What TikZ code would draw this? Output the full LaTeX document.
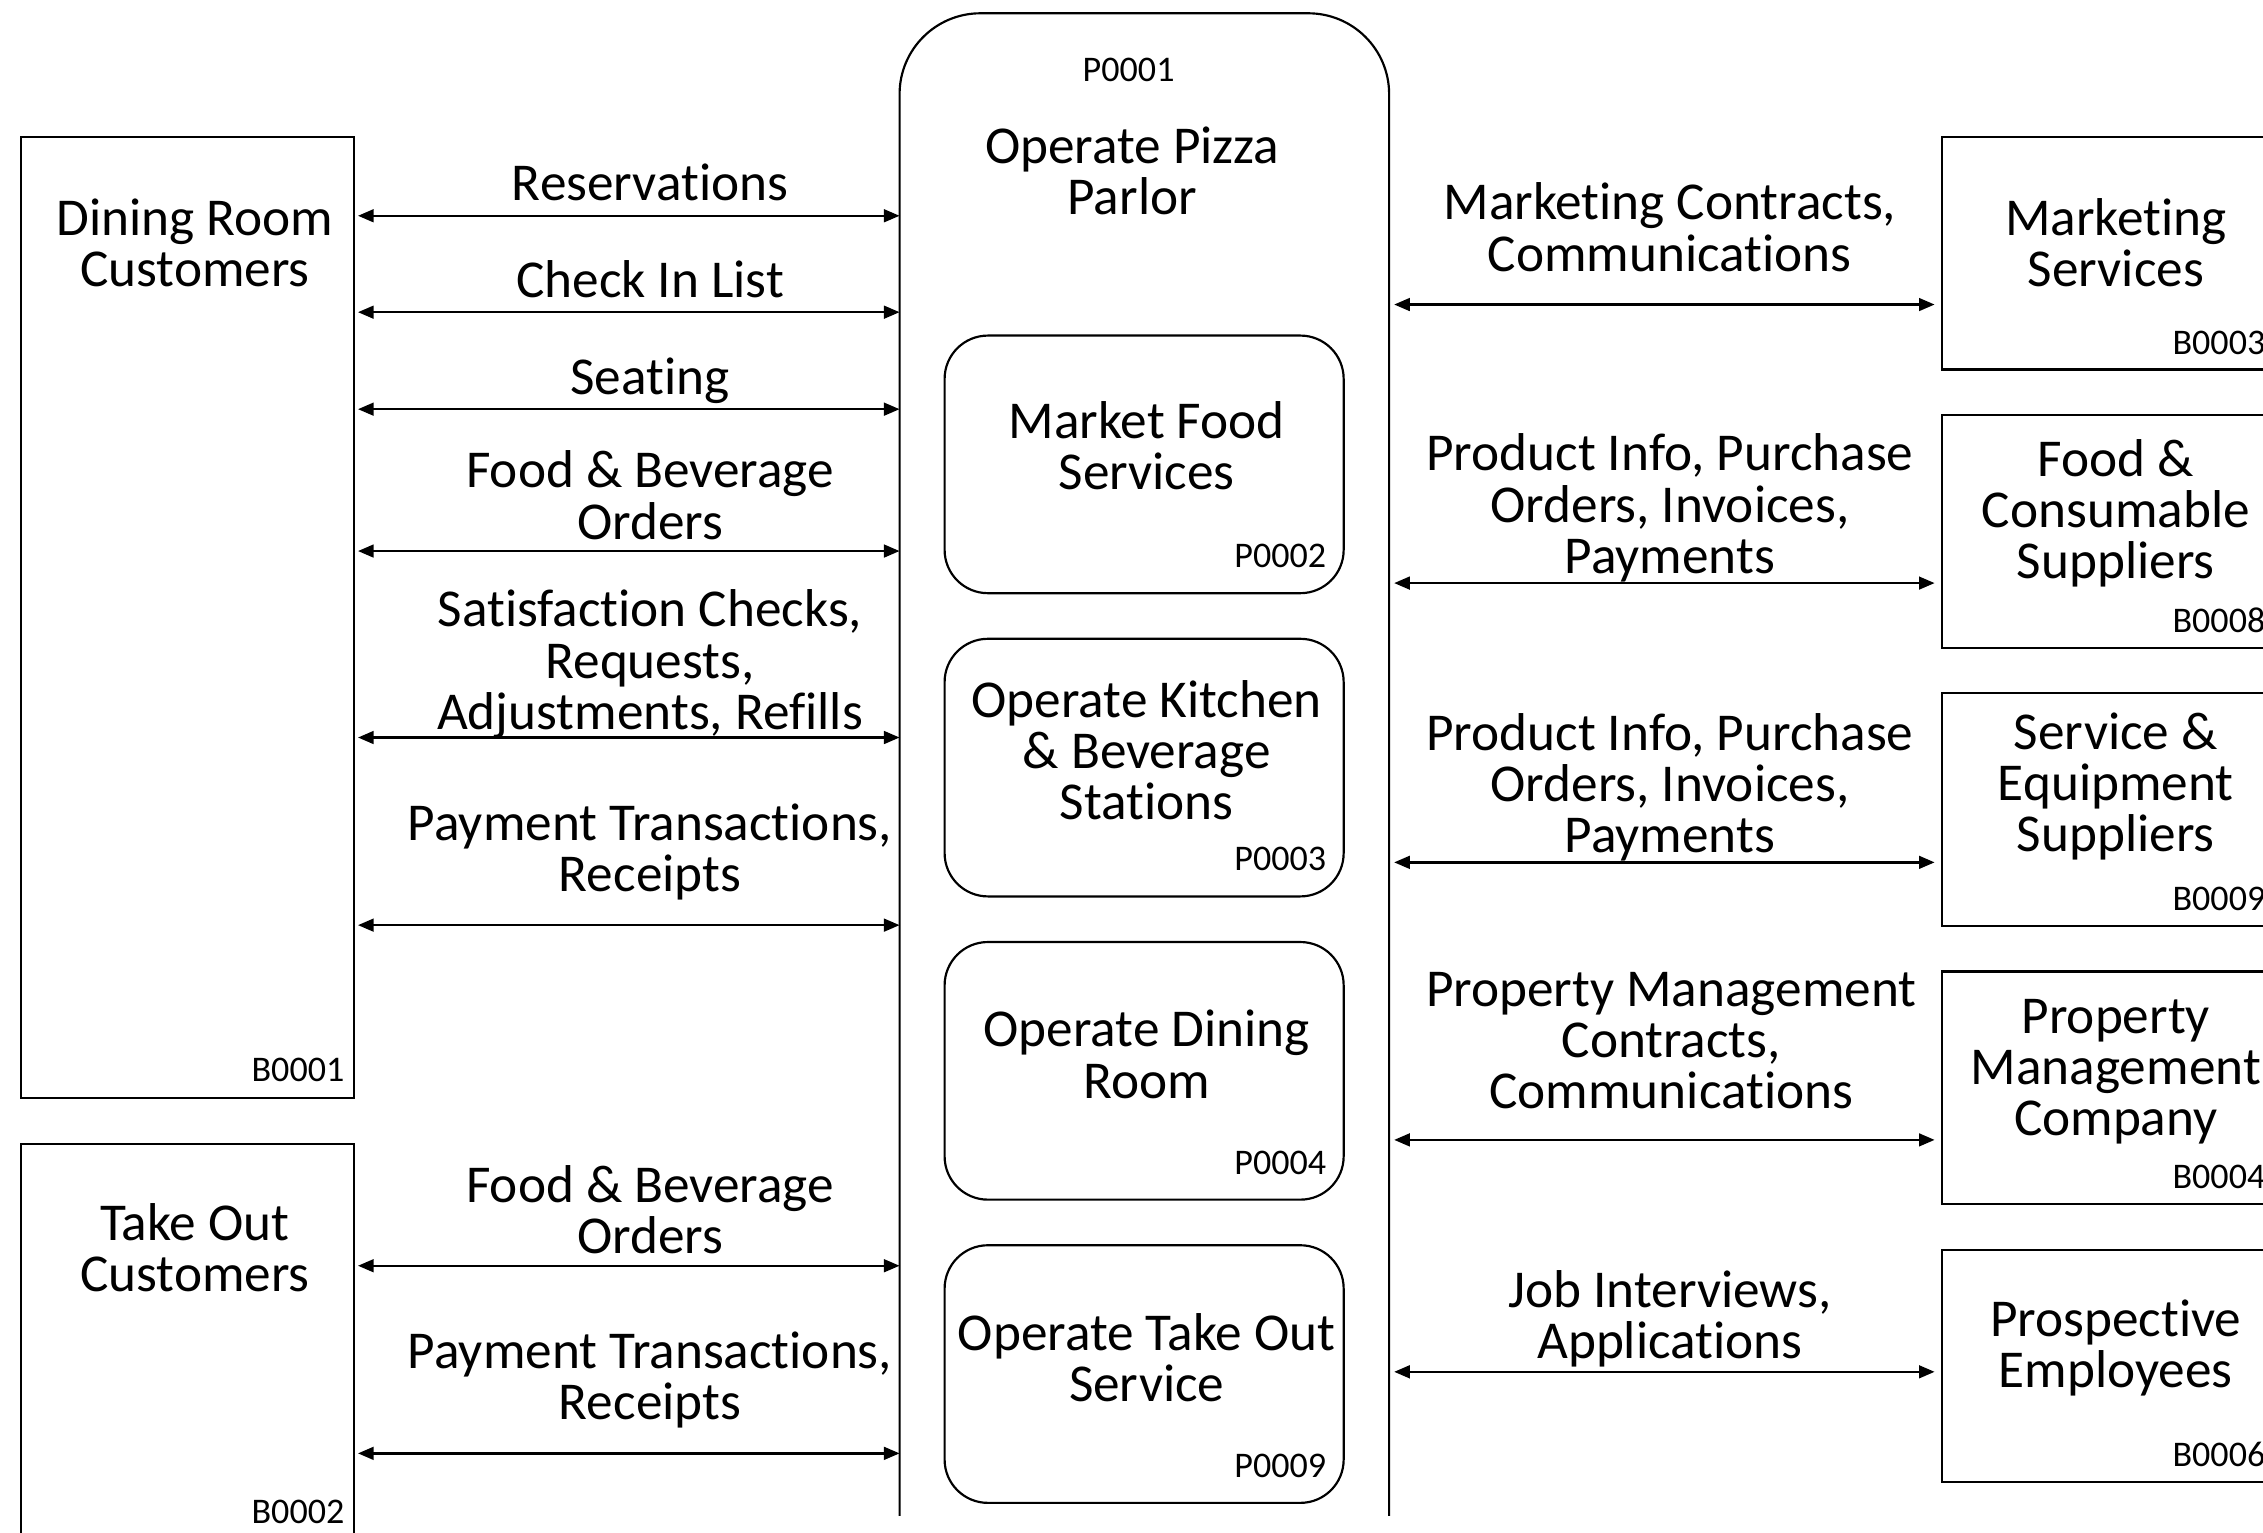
\documentclass[tikz,border=0pt]{standalone}
\usepackage{fontspec}
\setmainfont[Ligatures=NoCommon]{Carlito}
\usetikzlibrary{arrows.meta}
\newcommand\tightlines{\lineskiplimit=-100pt\relax}
\begin{document}
\begin{tikzpicture}[x=0.5pt,y=-0.5pt,
  lbl/.style={font={\fontsize{18.45}{17.75}\selectfont\tightlines}, align=center, inner sep=0pt, anchor=base},
  idlbl/.style={font={\fontsize{12.5}{14}\selectfont}, inner sep=0pt, anchor=base east},
  extbox/.style={draw, line width=0.75pt, rectangle, inner sep=0pt, outer sep=0pt, minimum width=115.5pt},
  procbox/.style={draw, line width=0.75pt, rectangle, rounded corners=15pt, inner sep=0pt, outer sep=0pt, minimum width=138.25pt, minimum height=89.25pt},
  flow/.style={line width=0.8pt, {Triangle[length=5.4pt,width=4.4pt]}-{Triangle[length=5.4pt,width=4.4pt]}},
]
\useasboundingbox (0,0) rectangle (1568,1062);
\fill[white] (0,0) rectangle (1568,1062);
\clip (0,0) rectangle (1568,1062);

% outer process P0001 (open at the bottom)
\begin{scope}
  \clip (0,0) rectangle (1568,1050);
  \node[draw, line width=0.75pt, rectangle, rounded corners=28pt, inner sep=0pt, outer sep=0pt,
        minimum width=169.6pt, minimum height=570.4pt] (p1) at (792.9,579.6) {};
\end{scope}
\node[idlbl, anchor=base] (p1id) at (782,56.3) {P0001};
\node[lbl] (p1txt) at (784.5,148.5) {Operate Pizza\\Parlor};

% sub-processes
\node[procbox] (p2) at (792.75,321.75) {};
\node[lbl] (p2txt) at (794.5,339) {Market Food\\Services};
\node[idlbl] (p2id) at (919.3,393) {P0002};

\node[procbox] (p3) at (792.75,531.85) {};
\node[lbl] (p3txt) at (794.5,568) {Operate Kitchen\\\& Beverage\\Stations};
\node[idlbl] (p3id) at (919.3,603.3) {P0003};

\node[procbox] (p4) at (792.75,741.95) {};
\node[lbl] (p4txt) at (794.5,760.8) {Operate Dining\\Room};
\node[idlbl] (p4id) at (919.3,813.5) {P0004};

\node[procbox] (p9) at (792.75,952.05) {};
\node[lbl] (p9txt) at (794.5,971) {Operate Take Out\\Service};
\node[idlbl] (p9id) at (919.3,1023.5) {P0009};

% left external entities
\node[extbox, minimum height=332.8pt] (b1) at (130.05,427.8) {};
\node[lbl] (b1txt) at (135,198.8) {Dining Room\\Customers};
\node[idlbl] (b1id) at (239,749.5) {B0001};

\node[extbox, minimum height=153.8pt] (b2) at (130.05,946.2) {};
\node[lbl] (b2txt) at (135,895) {Take Out\\Customers};
\node[idlbl] (b2id) at (239,1055.7) {B0002};

% right external entities
\node[extbox, minimum height=80.5pt] (b3) at (1460.95,175.5) {};
\node[lbl] (b3txt) at (1466,198.8) {Marketing\\Services};
\node[idlbl] (b3id) at (1570,245.5) {B0003};

\node[extbox, minimum height=80.5pt] (b8) at (1460.95,368.2) {};
\node[lbl] (b8txt) at (1466,401) {Food \&\\Consumable\\Suppliers};
\node[idlbl] (b8id) at (1570,438.2) {B0008};

\node[extbox, minimum height=80.5pt] (b9) at (1460.95,560.9) {};
\node[lbl] (b9txt) at (1466,590) {Service \&\\Equipment\\Suppliers};
\node[idlbl] (b9id) at (1570,630.9) {B0009};

\node[extbox, minimum height=80.5pt] (b4) at (1460.95,753.6) {};
\node[lbl] (b4txt) at (1466,787) {Property\\Management\\Company};
\node[idlbl] (b4id) at (1570,823.6) {B0004};

\node[extbox, minimum height=80.5pt] (b6) at (1460.95,946.3) {};
\node[lbl] (b6txt) at (1466,961.5) {Prospective\\Employees};
\node[idlbl] (b6id) at (1570,1016.3) {B0006};

% left flows
\node[lbl] (l1) at (450.4,138.8) {Reservations};
\draw[flow, shorten <=1.25pt] (b1.east |- 0,149.5) -- (p1.west |- 0,149.5);
\node[lbl] (l2) at (450.4,206) {Check In List};
\draw[flow, shorten <=1.25pt] (b1.east |- 0,216.3) -- (p1.west |- 0,216.3);
\node[lbl] (l3) at (450.4,273.6) {Seating};
\draw[flow, shorten <=1.25pt] (b1.east |- 0,283.5) -- (p1.west |- 0,283.5);
\node[lbl] (l4) at (450.4,373.6) {Food \& Beverage\\Orders};
\draw[flow, shorten <=1.25pt] (b1.east |- 0,381.8) -- (p1.west |- 0,381.8);
\node[lbl] (l5) at (450.4,505.3) {Satisfaction Checks,\\Requests,\\Adjustments, Refills};
\draw[flow, shorten <=1.25pt] (b1.east |- 0,511) -- (p1.west |- 0,511);
\node[lbl] (l6) at (450.4,617.8) {Payment Transactions,\\Receipts};
\draw[flow, shorten <=1.25pt] (b1.east |- 0,641) -- (p1.west |- 0,641);
\node[lbl] (l7) at (450.4,868.8) {Food \& Beverage\\Orders};
\draw[flow, shorten <=1.25pt] (b2.east |- 0,877) -- (p1.west |- 0,877);
\node[lbl] (l8) at (450.4,983.8) {Payment Transactions,\\Receipts};
\draw[flow, shorten <=1.25pt] (b2.east |- 0,1007) -- (p1.west |- 0,1007);

% right flows
\node[lbl] (r1) at (1157,187.8) {Marketing Contracts,\\Communications};
\draw[flow, shorten <=1.75pt, shorten >=2.5pt] (p1.east |- 0,211) -- (b3.west |- 0,211);
\node[lbl] (r2) at (1157,397.3) {Product Info, Purchase\\Orders, Invoices,\\Payments};
\draw[flow, shorten <=1.75pt, shorten >=2.5pt] (p1.east |- 0,404) -- (b8.west |- 0,404);
\node[lbl] (r3) at (1157,590.8) {Product Info, Purchase\\Orders, Invoices,\\Payments};
\draw[flow, shorten <=1.75pt, shorten >=2.5pt] (p1.east |- 0,597.5) -- (b9.west |- 0,597.5);
\node[lbl] (r4) at (1158,768.3) {Property Management\\Contracts,\\Communications};
\draw[flow, shorten <=1.75pt, shorten >=2.5pt] (p1.east |- 0,789.8) -- (b4.west |- 0,789.8);
\node[lbl] (r5) at (1157,941.5) {Job Interviews,\\Applications};
\draw[flow, shorten <=1.75pt, shorten >=2.5pt] (p1.east |- 0,950.5) -- (b6.west |- 0,950.5);
\end{tikzpicture}
\end{document}
